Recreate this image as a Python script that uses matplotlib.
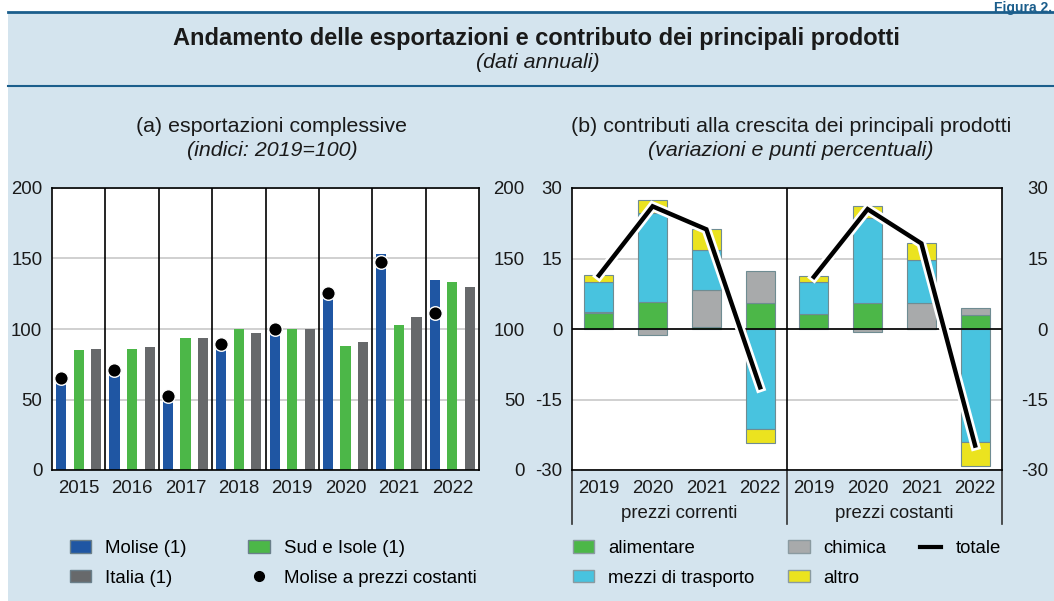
import numpy as np
import matplotlib
matplotlib.use('Agg')
import matplotlib.pyplot as plt
import matplotlib.patheffects as pe
from matplotlib.patches import Patch, Rectangle
from matplotlib.lines import Line2D

plt.rcParams['font.family'] = ['Liberation Sans', 'DejaVu Sans']
plt.rcParams['axes.unicode_minus'] = False

# ---- data, panel (a): indices 2019=100
anni_a = ['2015', '2016', '2017', '2018', '2019', '2020', '2021', '2022']
molise = [64, 70, 51.5, 88, 100, 124, 153, 134.5]
sud_isole = [85, 86, 93.5, 100, 100, 88, 103, 133]
italia = [86, 87, 93.5, 97, 100, 91, 108.5, 130]
molise_costanti = [65, 71, 52.5, 89.5, 100, 125.5, 147.5, 111.5]

# ---- data, panel (b): contributions (correnti 2019-2022, then costanti 2019-2022)
anni_b = ['2019', '2020', '2021', '2022']
gruppi = ['prezzi correnti', 'prezzi costanti']
alimentare = [3.4, 5.75, 0.4, 5.5, 3.2, 5.5, 0.0, 3.05]
chimica = [0.15, -1.35, 7.9, 6.75, 0.0, -0.7, 5.5, 1.5]
mezzi_trasporto = [6.4, 18.95, 8.5, -21.3, 6.75, 18.1, 9.2, -24.1]
altro = [1.6, 2.7, 4.5, -3.0, 1.35, 2.6, 3.5, -5.0]
totale = [11.4, 26.1, 21.2, -12.4, 11.1, 25.5, 18.2, -24.8]

BG = '#d4e4ee'
DARKLINE = '#1b5e8c'
BLUE = '#1f56a3'
GREEN = '#4cb748'
GRAY = '#67696b'
CYAN = '#48c3df'
LGRAY = '#a8aaab'
YELLOW = '#ebe31f'
GRID = '#c8c8c8'
FS = 13.4

fig = plt.figure(figsize=(10.54, 6.01), dpi=100, facecolor='white')
fig.patches.append(Rectangle((8 / 1054, 0), 1 - 8 / 1054, 1 - 12 / 601,
                             transform=fig.transFigure, facecolor=BG,
                             edgecolor='none', zorder=-10))
fig.add_artist(Line2D([8 / 1054, 1], [1 - 12 / 601] * 2, color=DARKLINE, lw=2))
fig.add_artist(Line2D([8 / 1054, 1], [1 - 86 / 601] * 2, color=DARKLINE, lw=1.5))

fig.text(0.998, 0.999, 'Figura 2.', ha='right', va='top', fontsize=10,
         fontweight='bold', color=DARKLINE)
fig.text(536 / 1054, 1 - 38 / 601,
         'Andamento delle esportazioni e contributo dei principali prodotti',
         ha='center', va='center', fontsize=17, fontweight='bold', color='#1a1a1a')
fig.text(538 / 1054, 1 - 63 / 601, '(dati annuali)', ha='center', va='center',
         fontsize=15.4, style='italic', color='#1a1a1a')

fig.text(272 / 1054, 1 - 127 / 601, '(a) esportazioni complessive',
         ha='center', va='center', fontsize=15.4, color='#1a1a1a')
fig.text(272 / 1054, 1 - 151 / 601, '(indici: 2019=100)',
         ha='center', va='center', fontsize=15.4, style='italic', color='#1a1a1a')
fig.text(791 / 1054, 1 - 127 / 601, '(b) contributi alla crescita dei principali prodotti',
         ha='center', va='center', fontsize=15.4, color='#1a1a1a')
fig.text(791 / 1054, 1 - 151 / 601, '(variazioni e punti percentuali)',
         ha='center', va='center', fontsize=15.4, style='italic', color='#1a1a1a')

# ================= panel (a)
ax_a = fig.add_axes([52 / 1054, 131 / 601, 427 / 1054, 282 / 601])
ax_a.set_facecolor('white')
x = np.arange(len(anni_a))
w = 0.19
ax_a.bar(x - 0.33, molise, w, color=BLUE, zorder=2)
ax_a.bar(x, sud_isole, w, color=GREEN, zorder=2)
ax_a.bar(x + 0.33, italia, w, color=GRAY, zorder=2)
ax_a.scatter(x - 0.33, molise_costanti, s=95, color='black', edgecolor='white',
             linewidth=1, zorder=4)
for xv in x[:-1] + 0.5:
    ax_a.axvline(xv, color='black', lw=1.2, zorder=3)
ax_a.set_xlim(-0.5, len(anni_a) - 0.5)
ax_a.set_ylim(0, 200)
ax_a.set_yticks([0, 50, 100, 150, 200])
ax_a.set_axisbelow(True)
ax_a.yaxis.grid(True, color=GRID, lw=1.2)
ax_a.set_xticks(x)
ax_a.set_xticklabels(anni_a)
ax_a.tick_params(length=0, labelsize=FS, pad=7, colors='#1a1a1a')
ax_a.tick_params(axis='x', pad=7)
for s in ax_a.spines.values():
    s.set_color('black')
    s.set_linewidth(1.2)
ax_a2 = ax_a.twinx()
ax_a2.set_ylim(0, 200)
ax_a2.set_yticks([0, 50, 100, 150, 200])
ax_a2.tick_params(length=0, labelsize=FS, pad=33, colors='#1a1a1a')
for lbl in ax_a2.get_yticklabels():
    lbl.set_horizontalalignment('right')
for s in ax_a2.spines.values():
    s.set_visible(False)

# ================= panel (b)
ax_b = fig.add_axes([572 / 1054, 131 / 601, 430 / 1054, 282 / 601])
ax_b.set_facecolor('white')
xb = np.arange(8)
wb = 0.54
pos_bottom = np.zeros(8)
neg_bottom = np.zeros(8)
for vals, col in [(alimentare, GREEN), (chimica, LGRAY),
                  (mezzi_trasporto, CYAN), (altro, YELLOW)]:
    v = np.array(vals)
    bottom = np.where(v >= 0, pos_bottom, neg_bottom)
    ax_b.bar(xb, v, wb, bottom=bottom, color=col, edgecolor='#6f8c92',
             linewidth=0.8, zorder=2)
    pos_bottom = pos_bottom + np.clip(v, 0, None)
    neg_bottom = neg_bottom + np.clip(v, None, 0)

ax_b.axhline(0, color='black', lw=1.2, zorder=3)
ax_b.axvline(3.5, color='black', lw=1.2, zorder=3)
stroke = [pe.Stroke(linewidth=7, foreground='white'), pe.Normal()]
for g in range(2):
    sl = slice(4 * g, 4 * g + 4)
    ax_b.plot(xb[sl], totale[sl], color='black', lw=3.2, zorder=5,
              solid_joinstyle='miter', path_effects=stroke)

ax_b.set_xlim(-0.5, 7.5)
ax_b.set_ylim(-30, 30)
ax_b.set_yticks([-30, -15, 0, 15, 30])
ax_b.set_axisbelow(True)
ax_b.yaxis.grid(True, color=GRID, lw=1.2)
ax_b.set_xticks(xb)
ax_b.set_xticklabels(anni_b * 2)
ax_b.tick_params(length=0, labelsize=FS, pad=7, colors='#1a1a1a')
ax_b.tick_params(axis='x', pad=7)
for s in ax_b.spines.values():
    s.set_color('black')
    s.set_linewidth(1.2)
tr = ax_b.get_xaxis_transform()
for xv in [-0.5, 3.5, 7.5]:
    ax_b.plot([xv, xv], [0, -0.19], transform=tr, color='#333333', lw=1.2,
              clip_on=False)
for g, name in enumerate(gruppi):
    ax_b.text(1.5 + 4 * g, -0.155, name, transform=tr, ha='center', va='center',
              fontsize=FS, color='#1a1a1a')
ax_b2 = ax_b.twinx()
ax_b2.set_ylim(-30, 30)
ax_b2.set_yticks([-30, -15, 0, 15, 30])
ax_b2.tick_params(length=0, labelsize=FS, pad=33, colors='#1a1a1a')
for lbl in ax_b2.get_yticklabels():
    lbl.set_horizontalalignment('right')
for s in ax_b2.spines.values():
    s.set_visible(False)

# ================= legends
h_a = [Patch(facecolor=BLUE, edgecolor='#6a7f8a', label='Molise (1)'),
       Patch(facecolor=GRAY, edgecolor='#6a7f8a', label='Italia (1)'),
       Patch(facecolor=GREEN, edgecolor='#6a7f8a', label='Sud e Isole (1)'),
       Line2D([], [], marker='o', color='black', linestyle='none',
              markersize=7, label='Molise a prezzi costanti')]
fig.legend(handles=h_a, loc='upper left', bbox_to_anchor=(70 / 1054, 1 - 540 / 601),
           ncol=2, frameon=False, fontsize=FS, borderpad=0, borderaxespad=0,
           handlelength=1.15, handleheight=0.65, handletextpad=0.75,
           columnspacing=3.3, labelspacing=0.68)

h_b = [Patch(facecolor=GREEN, edgecolor='#8a9aa0', label='alimentare'),
       Patch(facecolor=CYAN, edgecolor='#8a9aa0', label='mezzi di trasporto'),
       Patch(facecolor=LGRAY, edgecolor='#8a9aa0', label='chimica'),
       Patch(facecolor=YELLOW, edgecolor='#8a9aa0', label='altro'),
       Line2D([], [], color='black', lw=3, label='totale')]
fig.legend(handles=h_b, loc='upper left', bbox_to_anchor=(573 / 1054, 1 - 540 / 601),
           ncol=3, frameon=False, fontsize=FS, borderpad=0, borderaxespad=0,
           handlelength=1.15, handleheight=0.65, handletextpad=0.75,
           columnspacing=1.8, labelspacing=0.68)

fig.savefig('out.png', dpi=100, facecolor=fig.get_facecolor())
